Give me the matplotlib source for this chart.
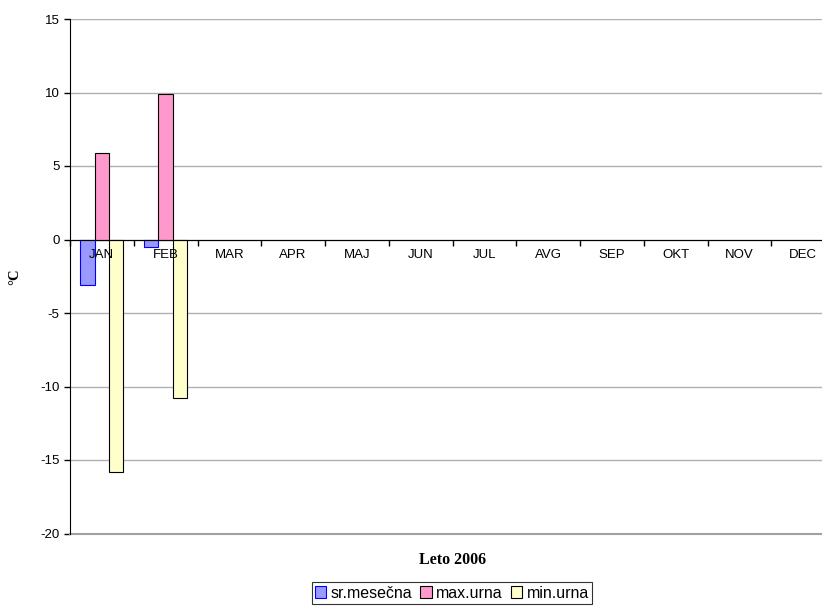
import numpy as np
import matplotlib.pyplot as plt

months = ['JAN', 'FEB', 'MAR', 'APR', 'MAJ', 'JUN',
          'JUL', 'AVG', 'SEP', 'OKT', 'NOV', 'DEC']
sr_mesecna = [-3.1, -0.5] + [np.nan] * 10
max_urna = [5.9, 9.9] + [np.nan] * 10
min_urna = [-15.8, -10.8] + [np.nan] * 10

plt.rcParams['font.family'] = ['Liberation Sans', 'DejaVu Sans']
plt.rcParams['axes.unicode_minus'] = False

fig = plt.figure(figsize=(8.22, 6.08), dpi=100)
# plot area runs slightly past the right edge of the picture
ax = fig.add_axes([70 / 822, (608 - 533.5) / 608, 765 / 822, 514.5 / 608])

x = np.arange(len(months))
w = 0.225
ax.bar(x - w, sr_mesecna, w, color='#9999FF', edgecolor='#0000FF', linewidth=0.8,
       label='sr.mesečna', zorder=3)
ax.bar(x, max_urna, w, color='#FF99CC', edgecolor='black', linewidth=0.8,
       label='max.urna', zorder=3)
ax.bar(x + w, min_urna, w, color='#FFFFCC', edgecolor='black', linewidth=0.8,
       label='min.urna', zorder=3)

ax.set_xlim(-0.5, len(months) - 0.5)
ax.set_ylim(-20, 15)
ax.set_yticks(np.arange(-20, 16, 5))
ax.yaxis.grid(True, color='#b0b0b0', linewidth=1, zorder=0)
ax.axhline(-20, color='#a0a0a0', linewidth=1.5, clip_on=False, zorder=1)
ax.set_axisbelow(True)

for s in ['top', 'right']:
    ax.spines[s].set_visible(False)
ax.spines['left'].set_color('black')
ax.spines['bottom'].set_position(('data', 0))
ax.spines['bottom'].set_color('black')
ax.spines['bottom'].set_zorder(4)
ax.xaxis.set_zorder(5)

ax.set_xticks(np.arange(len(months) + 1) - 0.5)
ax.set_xticklabels([])
ax.set_xticks(x, minor=True)
ax.set_xticklabels(months, minor=True)
ax.tick_params(axis='x', which='major', direction='out', length=4, width=1)
ax.tick_params(axis='x', which='minor', length=0, pad=7, labelsize=9.5)
ax.tick_params(axis='y', direction='out', length=4, width=1, labelsize=9.5)

ax.set_ylabel('°C', family='Liberation Serif', fontweight='bold', fontsize=10.5,
              labelpad=14)
ax.text(0.5, -0.035, 'Leto 2006', transform=ax.transAxes, ha='center', va='top',
        family='Liberation Serif', fontweight='bold', fontsize=11.5)

leg = fig.legend(loc='center', bbox_to_anchor=(452 / 822, (608 - 593) / 608), ncol=3,
                 fontsize=11.5, frameon=True, fancybox=False, edgecolor='black',
                 handlelength=0.7, handleheight=0.7, handletextpad=0.3,
                 columnspacing=0.5, borderpad=0.2, borderaxespad=0)
leg.get_frame().set_linewidth(0.8)

fig.savefig('out.png', dpi=100)
